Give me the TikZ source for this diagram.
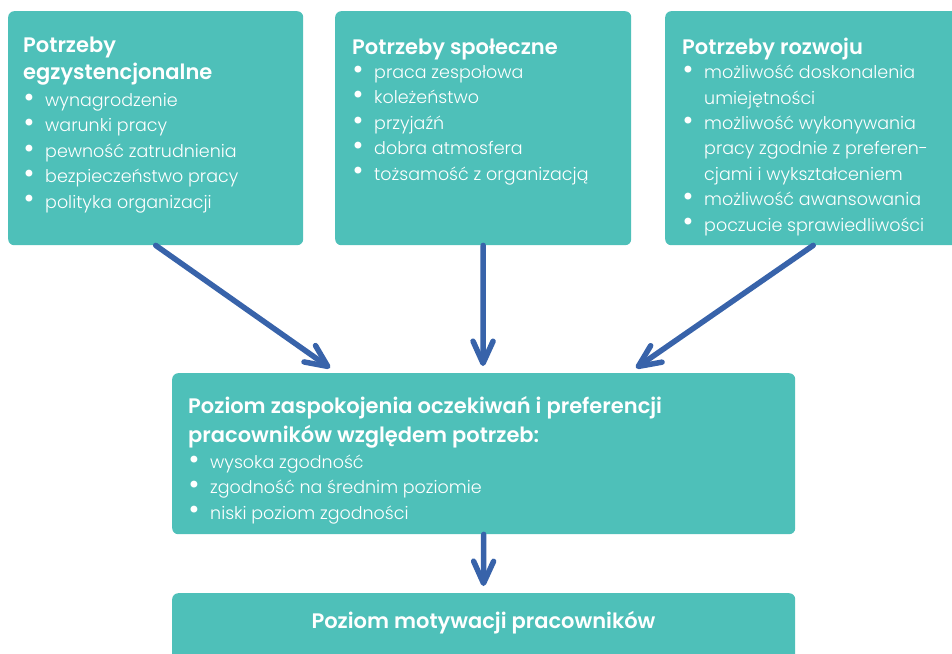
\documentclass[tikz,border=0pt]{standalone}
\usepackage{fontspec}
\setmainfont{Poppins}[UprightFont=* Light, BoldFont=* SemiBold]
\usetikzlibrary{arrows.meta}

\definecolor{boxteal}{RGB}{78,192,185}
\definecolor{arrowblue}{RGB}{56,99,170}

% heading font, bullet item and continuation line
\newcommand\ttl{\bfseries\fontsize{21}{25.4}\selectfont}
\newcommand\dotmark{\raisebox{-0.05em}{\scalebox{1.7}{\textbullet}}}
\newcommand\itm[1]{\makebox[22pt][l]{\hspace{0.5pt}\dotmark}#1}
\newcommand\cont[1]{\hspace*{22pt}#1}

\tikzset{
  card/.style={rectangle, rounded corners=6pt, fill=boxteal, draw=none,
    anchor=north west, inner sep=0pt},
  cardtext/.style={anchor=base west, align=left, inner sep=0pt, text=white,
    font=\fontsize{17.5}{25.4}\selectfont},
  flow/.style={draw=arrowblue, line width=5.5pt, line cap=round,
    -{Straight Barb[length=22pt,width=20pt,round]}},
}

\begin{document}
\begin{tikzpicture}[x=1pt,y=-1pt]
\useasboundingbox (0,0) rectangle (952,653);
\clip (0,0) rectangle (952,653);

% top row of needs
\node[card, minimum width=295pt, minimum height=234pt] (b1) at (8,11) {};
\node[card, minimum width=296pt, minimum height=234pt] (b2) at (335,11) {};
\node[card, minimum width=296pt, minimum height=234pt] (b3) at (665,11) {};

% satisfaction level and motivation
\node[card, minimum width=623pt, minimum height=161pt] (b4) at (172,373) {};
\node[card, minimum width=623pt, minimum height=90pt] (b5) at (172,593) {};

% text blocks, placed by the baseline of their last line
\node[cardtext] (t1) at (23,208) {%
  \ttl Potrzeby\\[1.6pt]
  \ttl egzystencjonalne\\[1.6pt]
  \itm{wynagrodzenie}\\
  \itm{warunki pracy}\\
  \itm{pewność zatrudnienia}\\
  \itm{bezpieczeństwo pracy}\\
  \itm{polityka organizacji}};

\node[cardtext] (t2) at (352,180) {%
  \ttl Potrzeby społeczne\\[-1.4pt]
  \itm{praca zespołowa}\\
  \itm{koleżeństwo}\\
  \itm{przyjaźń}\\
  \itm{dobra atmosfera}\\
  \itm{tożsamość z organizacją}};

\node[cardtext] (t3) at (682,231) {%
  \ttl Potrzeby rozwoju\\[-1.4pt]
  \itm{możliwość doskonalenia}\\
  \cont{umiejętności}\\
  \itm{możliwość wykonywania}\\
  \cont{pracy zgodnie z preferen-}\\
  \cont{cjami i wykształceniem}\\
  \itm{możliwość awansowania}\\
  \itm{poczucie sprawiedliwości}};

\node[cardtext] (t4) at (188,519) {%
  \ttl Poziom zaspokojenia oczekiwań i preferencji\\[3.6pt]
  \ttl pracowników względem potrzeb:\\[0.6pt]
  \itm{wysoka zgodność}\\
  \itm{zgodność na średnim poziomie}\\
  \itm{niski poziom zgodności}};

\node[anchor=base, inner sep=0pt, text=white, font=\ttl]
  (t5) at (483.5,628) {Poziom motywacji pracowników};

% connectors
\coordinate (e1) at (330,368);
\coordinate (e2) at (483,366);
\coordinate (e3) at (636,368);
\coordinate (e4) at (483.5,586);

\draw[flow] (b1.south) -- (e1);
\draw[flow] (b2.south) -- (e2);
\draw[flow] (b3.south) -- (e3);
\draw[flow] (b4.south) -- (e4);
\end{tikzpicture}
\end{document}
